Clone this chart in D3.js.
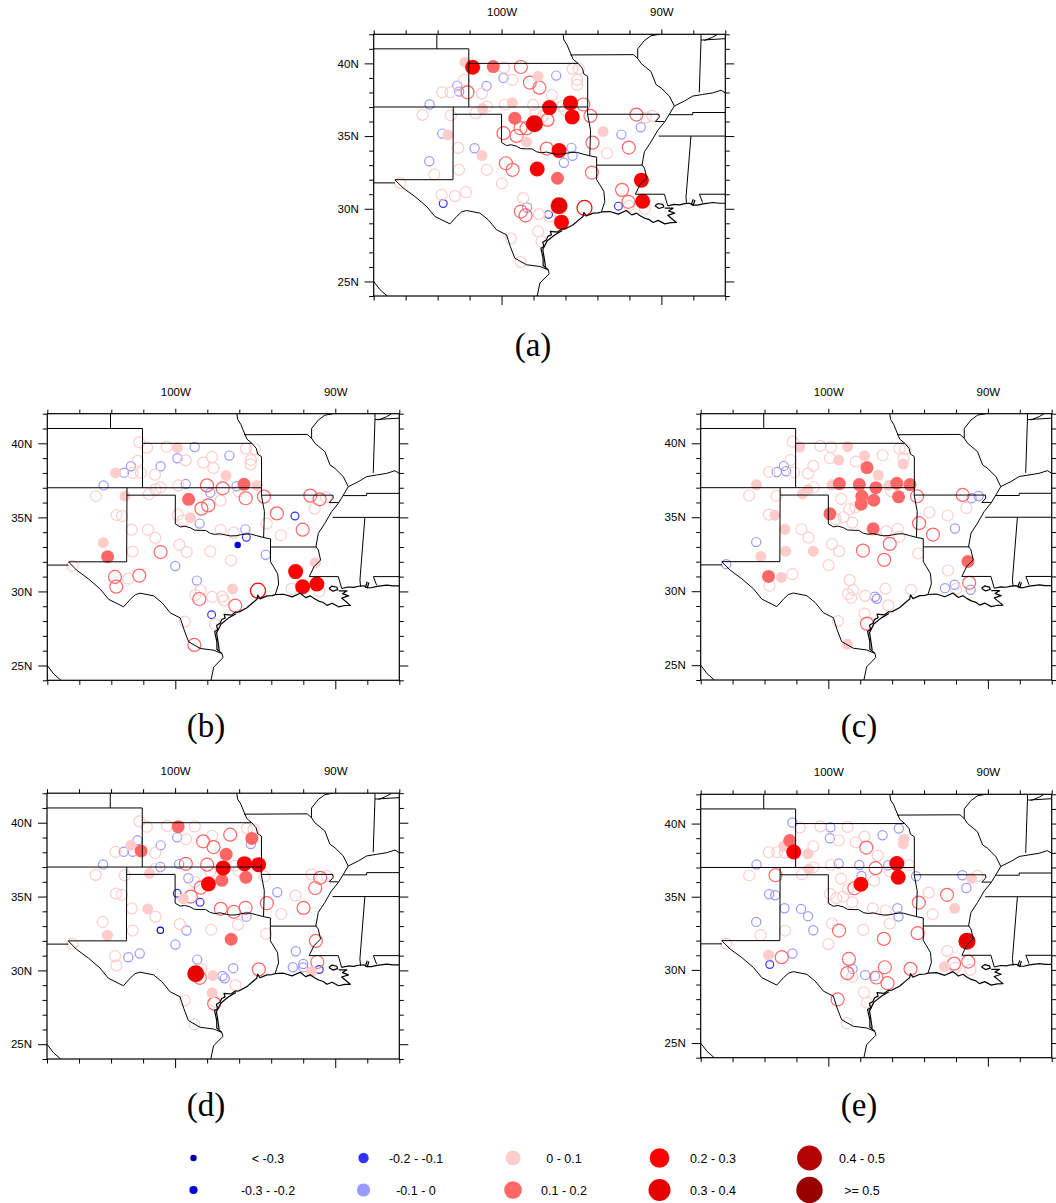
<!DOCTYPE html>
<html><head><meta charset="utf-8">
<script src="https://cdn.jsdelivr.net/npm/d3@7/dist/d3.min.js"></script>
<style>html,body{margin:0;padding:0;background:#fff}svg{display:block}</style></head>
<body><svg id="c" width="1056" height="1203"></svg>
<script>
// Each station: [lon, lat, value, significant]
const panelA=[
[-99.85,39.71,.05,0],[-99.33,38.86,.05,0],[-102.35,38.86,.05,0],[-103.71,38.01,.05,0],[-103.19,38.01,.05,0],[-101.23,37.92,.05,0],[-104.94,36.46,.05,0],[-103.17,36.43,.05,0],[-101.63,36.57,.05,0],[-100.9,37.03,.05,0],[-99.79,37.17,.05,0],[-98.02,37.14,.05,0],[-96.85,37.81,.05,0],[-96.19,37.07,.05,0],[-95.56,39.62,.05,0],[-95.17,39.62,.05,0],[-95.27,38.86,.05,0],[-95.27,38.52,.05,0],[-96.04,36.8,.05,0],[-97.08,36.11,.05,0],[-97.44,36.34,.05,0],[-97.88,36.57,.05,0],[-102.71,34.19,.05,0],[-102.67,32.68,.05,0],[-104.21,32.36,.05,0],[-100.92,32.68,.05,0],[-99.98,31.74,.05,0],[-106.35,31.76,.05,0],[-103.75,30.96,.05,0],[-102.92,30.87,.05,0],[-102.23,31.14,.05,0],[-98.65,30.73,.05,0],[-97.67,29.63,.05,0],[-96.98,29.47,.05,0],[-97.71,28.44,.05,0],[-99.42,27.96,.05,0],[-97.5,27.75,.05,0],[-98.81,26.35,.05,0],[-93.4,33.82,.05,0],[-90.98,36.27,.05,0],[-90.56,36.39,.05,0],[-92.02,30.2,.05,0],[-91.04,30,.05,0],
[-104.5,37.17,-.05,0],[-102.77,38.47,-.05,0],[-102.65,38.06,-.05,0],[-100.94,38.45,-.05,0],[-99.88,39,-.05,0],[-96.58,39.16,-.05,0],[-103.71,35.17,-.05,0],[-101.69,34.16,-.05,0],[-104.52,33.27,-.05,0],[-95.63,34.19,-.05,0],[-95.56,33.64,-.05,0],[-96.1,33.16,-.05,0],[-91.29,35.61,-.05,0],[-92.5,35.1,-.05,0],[-98.4,30.09,-.05,0],
[-103.65,30.36,-.15,0],[-97.06,29.61,-.15,0],[-92.69,30.18,-.15,0],
[-98.79,39.75,.15,0],[-98.23,38.68,.15,0],[-97.63,38.33,.15,0],[-102.13,38.01,.15,0],[-99.88,35.2,.15,0],[-99.06,35.01,.15,0],[-98.81,35.54,.15,0],[-98.44,35.54,.15,0],[-97.13,36.11,.15,0],[-97.17,34.14,.15,0],[-94.31,34.55,.15,0],[-92.04,34.21,.15,0],[-94.44,36.39,.15,0],[-91.56,36.48,.15,0],[-94.88,37.17,.15,0],[-99.73,33.13,.15,0],[-99.31,32.68,.15,0],[-94.35,32.49,.15,0],[-92.46,31.3,.15,0],[-92.06,30.48,.15,0],[-98.79,29.81,.15,0],[-98.5,29.54,.15,0],[-94.81,30.06,.25,0],
[-102.29,40.08,.05,1],[-97.71,39.11,.05,1],[-99.33,37.3,.05,1],[-101.19,36.89,.05,1],[-103.35,35.08,.05,1],[-98.44,34.6,.05,1],[-93.65,35.31,.05,1],[-101.23,33.66,.05,1],
[-100.52,39.78,.15,1],[-99.17,36.23,.15,1],[-96.5,32.1,.15,1],
[-101.81,39.73,.25,1],[-97,36.96,.25,1],[-95.69,37.28,.25,1],[-95.58,36.32,.25,1],[-96.4,34,.25,1],[-97.77,32.74,.25,1],[-91.25,31.97,.25,1],[-91.17,30.52,.25,1],[-96.25,29.08,.25,1],
[-97.94,35.84,.35,1],[-96.4,30.2,.35,1]];
const panelB=[
[-102.25,40.07,.05,0],[-101.77,39.71,.05,0],[-100.54,39.77,.05,0],[-99.35,38.85,.05,0],[-98.25,38.69,.05,0],[-97.71,39.08,.05,0],[-97.62,38.33,.05,0],[-95.58,39.64,.05,0],[-95.02,39.59,.05,0],[-95.27,38.87,.05,0],[-95.29,38.58,.05,0],[-102.35,38.81,.05,0],[-102.67,38,.05,0],[-102.15,38,.05,0],[-101.27,37.88,.05,0],[-101.65,36.56,.05,0],[-101.23,36.89,.05,0],[-100.92,37.03,.05,0],[-99.81,37.16,.05,0],[-97.17,36.13,.05,0],[-96.04,36.74,.05,0],[-104.96,36.44,.05,0],[-103.67,35.16,.05,0],[-103.33,35.09,.05,0],[-102.73,34.17,.05,0],[-101.71,34.17,.05,0],[-101.25,33.61,.05,0],[-102.67,32.69,.05,0],[-99.75,33.14,.05,0],[-99.29,32.66,.05,0],[-99.85,35.18,.05,0],[-99.54,34.8,.05,0],[-97.81,32.7,.05,0],[-96.52,32.1,.05,0],[-97.17,34.15,.05,0],[-96.35,33.97,.05,0],[-94.29,34.58,.05,0],[-93.4,33.79,.05,0],[-91.29,35.59,.05,0],[-90.58,36.35,.05,0],[-106.42,31.72,.05,0],[-102.94,30.86,.05,0],[-98.42,30.08,.05,0],[-98.75,29.76,.05,0],[-97.69,29.63,.05,0],[-97.06,29.65,.05,0],[-96.96,29.4,.05,0],[-99.42,27.96,.05,0],[-97.52,27.78,.05,0],[-92.73,30.17,.05,0],[-91,30,.05,0],
[-104.48,37.16,-.05,0],[-103.21,38.02,-.05,0],[-102.77,38.45,-.05,0],[-100.92,38.45,-.05,0],[-99.87,38.99,-.05,0],[-98.79,39.75,-.05,0],[-96.62,39.17,-.05,0],[-99.35,37.25,-.05,0],[-96.17,37.1,-.05,0],[-97.81,36.67,-.05,0],[-98.48,34.58,-.05,0],[-95.62,34.19,-.05,0],[-94.35,32.48,-.05,0],[-100,31.72,-.05,0],[-98.65,30.73,-.05,0],
[-92.52,35.09,-.15,0],[-95.56,33.65,-.15,0],[-97.73,28.43,-.15,0],
[-98.02,37.16,.15,0],[-97.04,36.96,.15,0],[-95.6,36.29,.15,0],[-94.46,36.4,.15,0],[-97.94,35.81,.15,0],[-98.37,35.59,.15,0],[-93.65,35.27,.15,0],[-91.56,36.47,.15,0],[-90.98,36.22,.15,0],[-92.04,34.17,.15,0],[-100.92,32.66,.15,0],[-103.77,30.98,.15,0],[-103.69,30.32,.15,0],[-102.25,31.07,.15,0],[-98.5,29.49,.15,0],[-96.25,29.04,.15,0],[-98.81,26.39,.15,0],[-94.83,30.05,.25,0],
[-103.73,38,.05,1],[-99.87,39.71,.05,1],[-96.83,37.82,.05,1],[-94.9,37.16,.05,1],[-103.15,36.44,.05,1],[-99.06,34.98,.05,1],[-104.5,33.29,.05,1],[-96.42,30.17,.05,1],[-91.25,31.94,.05,1],
[-95.71,37.23,.15,1],[-99.17,36.22,.15,1],[-104.23,32.35,.15,1],
[-92.48,31.34,.25,1],[-92.04,30.32,.25,1],[-91.15,30.5,.25,1],
[-96.1,33.14,-.25,1]];
const panelC=[
[-102.23,40.11,.05,0],[-100.5,39.82,.05,0],[-99.83,39.75,.05,0],[-99.9,38.99,.05,0],[-98.27,38.76,.05,0],[-96.6,39.19,.05,0],[-95.54,39.66,.05,0],[-95.19,39.6,.05,0],[-95.29,38.96,.05,0],[-102.37,38.87,.05,0],[-103.71,38.06,.05,0],[-102.15,38.04,.05,0],[-101.27,37.95,.05,0],[-100.94,38.47,.05,0],[-100.92,37.03,.05,0],[-104.96,36.47,.05,0],[-103.25,36.44,.05,0],[-99.19,36.24,.05,0],[-103.73,35.18,.05,0],[-98.69,35.54,.05,0],[-98.31,35.66,.05,0],[-99.04,35,.05,0],[-99.54,34.87,.05,0],[-98.5,34.64,.05,0],[-101.69,34.19,.05,0],[-101.25,33.63,.05,0],[-99.77,33.18,.05,0],[-99.33,32.71,.05,0],[-99.98,31.76,.05,0],[-94.37,32.55,.05,0],[-95.65,34.22,.05,0],[-95.56,33.67,.05,0],[-96.37,34.06,.05,0],[-96.08,36.78,.05,0],[-93.67,35.34,.05,0],[-92.52,35.12,.05,0],[-91.35,35.63,.05,0],[-92.5,31.4,.05,0],[-102.25,31.16,.05,0],[-103.69,30.37,.05,0],[-98.67,30.75,.05,0],[-98.44,30.08,.05,0],[-98.77,29.81,.05,0],[-98.56,29.56,.05,0],[-97.69,29.69,.05,0],[-96.42,30.17,.05,0],[-94.81,30.1,.05,0],[-96.25,29.04,.05,0],[-97.73,28.48,.05,0],[-99.4,27.98,.05,0],[-92,30.14,.05,0],
[-102.79,38.47,-.05,0],[-103.23,38.06,-.05,0],[-102.65,38.11,-.05,0],[-104.52,33.32,-.05,0],[-106.4,31.83,-.05,0],[-92.06,34.24,-.05,0],[-91.02,36.29,-.05,0],[-90.58,36.44,-.05,0],[-92.69,30.21,-.05,0],[-92.08,30.44,-.05,0],[-91.08,30.1,-.05,0],[-97.08,29.63,-.05,0],[-96.96,29.49,-.05,0],
[-91.58,36.51,.15,0],[-94.44,36.42,.15,0],[-94.31,34.6,.15,0],[-93.44,33.83,.15,0],[-96.15,33.2,.15,0],[-97.83,32.75,.15,0],[-96.5,32.12,.15,0],[-97.58,27.81,.15,0],[-91.17,30.57,.15,0],
[-101.79,39.75,.05,1],[-98.79,39.77,.05,1],[-99.35,38.87,.05,1],[-97.73,39.16,.05,1],[-95.31,38.6,.05,1],[-96.87,37.84,.05,1],[-104.5,37.19,.05,1],[-96.21,37.16,.05,1],[-99.77,37.19,.05,1],[-101.62,36.58,.05,1],[-101.27,36.87,.05,1],[-103.35,35.14,.05,1],[-102.73,34.19,.05,1],[-102.67,32.71,.05,1],[-100.94,32.71,.05,1],[-104.23,32.35,.05,1],[-102.94,30.93,.05,1],[-98.81,26.41,.05,1],
[-97.58,38.36,.15,1],[-99.31,37.28,.15,1],[-98.06,37.21,.15,1],[-97.02,37,.15,1],[-95.71,37.3,.15,1],[-94.88,37.21,.15,1],[-97.9,36.42,.15,1],[-97.15,36.15,.15,1],[-97.94,35.88,.15,1],[-95.6,36.38,.15,1],[-99.9,35.23,.15,1],[-97.19,34.22,.15,1],[-103.75,31,.15,1],[-91.25,32.01,.15,1]];
const panelD=[
[-102.23,40.09,.05,0],[-101.77,39.73,.05,0],[-100.5,39.79,.05,0],[-98.77,39.75,.05,0],[-99.31,38.88,.05,0],[-97.69,39.12,.05,0],[-95.52,39.6,.05,0],[-95.1,39.55,.05,0],[-103.73,38.02,.05,0],[-101.25,37.95,.05,0],[-104.96,36.47,.05,0],[-103.15,36.44,.05,0],[-101.21,36.9,.05,0],[-97.8,36.7,.05,0],[-96.04,36.75,.05,0],[-96.25,37.1,.05,0],[-94.42,36.36,.05,0],[-98.77,35.99,.05,0],[-103.69,35.2,.05,0],[-103.33,35.11,.05,0],[-102.71,34.2,.05,0],[-101.23,33.64,.05,0],[-104.52,33.28,.05,0],[-102.65,32.7,.05,0],[-99.71,33.13,.05,0],[-97.75,32.75,.05,0],[-96.08,33.1,.05,0],[-94.31,32.48,.05,0],[-93.37,33.82,.05,0],[-92.48,35.06,.05,0],[-91.48,36.5,.05,0],[-90.52,36.4,.05,0],[-106.42,31.79,.05,0],[-103.75,30.97,.05,0],[-103.67,30.34,.05,0],[-98.37,30.09,.05,0],[-96.23,29,.05,0],[-99.4,27.97,.05,0],[-98.79,26.34,.05,0],[-97.5,27.88,.05,0],
[-104.5,37.18,-.05,0],[-103.21,38.04,-.05,0],[-102.65,38.04,-.05,0],[-102.35,38.81,-.05,0],[-100.9,38.47,-.05,0],[-99.87,39.01,-.05,0],[-99.75,37.2,-.05,0],[-100.92,37,-.05,0],[-95.27,38.56,-.05,0],[-99.17,36.24,-.05,0],[-93.62,35.29,-.05,0],[-95.54,33.64,-.05,0],[-99.29,32.7,-.05,0],[-99.98,31.75,-.05,0],[-102.92,30.89,-.05,0],[-102.21,31.14,-.05,0],[-98.62,30.73,-.05,0],[-96.37,30.15,-.05,0],[-97.04,29.62,-.05,0],[-96.9,29.46,-.05,0],[-92.46,31.3,-.05,0],[-92.65,30.21,-.05,0],[-92,30.43,-.05,0],[-92,30.2,-.05,0],
[-99.87,35.22,-.15,0],[-98.44,34.61,-.15,0],[-91,30.06,-.15,0],[-100.92,32.72,-.25,0],
[-96.56,39.19,.15,0],[-98.25,38.74,.15,0],[-97.6,38.35,.15,0],[-99.33,37.22,.15,0],[-98,37.16,.15,0],[-99.02,35,.15,0],[-98.4,35.6,.15,0],[-97.15,34.17,.15,0],[-96.33,33.97,.15,0],[-95.6,34.24,.15,0],[-94.27,34.55,.15,0],[-91.98,34.23,.15,0],[-91.25,35.58,.15,0],[-90.94,36.27,.15,0],[-91.21,32,.15,0],[-91.12,30.57,.15,0],[-94.77,30.07,.15,0],[-98.46,29.5,.15,0],[-97.56,27.75,.15,0],
[-102.77,38.47,.05,1],[-101.6,36.57,.05,1],[-99.48,34.86,.05,1],[-101.71,34.16,.05,1],[-104.23,32.38,.05,1],[-97.65,29.65,.05,1],[-97.69,28.48,.05,1],[-91.48,29.92,.05,1],
[-99.81,39.73,.15,1],[-95.21,38.94,.15,1],[-102.12,38.09,.15,1],[-96.81,37.86,.15,1],[-97.08,36.1,.15,1],[-95.58,36.3,.15,1],[-96.5,32.11,.15,1],
[-95.67,37.23,.25,1],[-94.79,37.16,.25,1],[-97,36.94,.25,1],[-97.92,35.85,.25,1],
[-98.71,29.78,.35,1]];
const panelE=[
[-101.79,39.73,.05,0],[-100.5,39.81,.05,0],[-99.35,38.86,.05,0],[-98.79,39.77,.05,0],[-97.73,39.11,.05,0],[-98.27,38.72,.05,0],[-100.94,38.45,.05,0],[-103.73,38.04,.05,0],[-103.21,38.04,.05,0],[-102.73,38.02,.05,0],[-96.9,37.81,.05,0],[-100.94,37.01,.05,0],[-99.83,37.17,.05,0],[-94.94,37.15,.05,0],[-96.13,36.74,.05,0],[-104.96,36.45,.05,0],[-101.65,36.54,.05,0],[-99.21,36.24,.05,0],[-97.12,36.1,.05,0],[-98.77,35.51,.05,0],[-99.9,35.2,.05,0],[-99.5,34.9,.05,0],[-99.08,35,.05,0],[-98.5,34.62,.05,0],[-97.21,34.21,.05,0],[-96.4,34.06,.05,0],[-93.71,35.28,.05,0],[-93.46,33.8,.05,0],[-90.65,36.42,.05,0],[-96.15,33.17,.05,0],[-99.77,33.17,.05,0],[-97.81,32.74,.05,0],[-100,31.76,.05,0],[-102.71,32.69,.05,0],[-104.25,32.37,.05,0],[-106.4,31.8,.05,0],[-92.54,31.3,.05,0],[-98.5,29.53,.05,0],[-97.77,28.46,.05,0],[-97.58,27.77,.05,0],[-98.83,26.36,.05,0],[-92.04,30.15,.05,0],[-91.1,30,.05,0],
[-102.25,40.07,-.05,0],[-99.87,39.75,-.05,0],[-99.9,39,-.05,0],[-96.6,39.2,-.05,0],[-95.58,39.66,-.05,0],[-104.5,37.2,-.05,0],[-99.35,37.27,-.05,0],[-98.06,37.17,-.05,0],[-97.92,36.42,-.05,0],[-96.25,37.15,-.05,0],[-94.5,36.4,-.05,0],[-91.6,36.47,-.05,0],[-91.35,35.6,-.05,0],[-103.71,35.17,-.05,0],[-103.33,35.1,-.05,0],[-102.75,34.21,-.05,0],[-101.71,34.17,-.05,0],[-101.27,33.67,-.05,0],[-104.52,33.28,-.05,0],[-100.94,32.71,-.05,0],[-102.25,31.12,-.05,0],[-98.48,30.07,-.05,0],[-97.69,29.66,-.05,0],[-97.08,29.59,-.05,0],[-95.67,34.21,-.05,0],[-95.6,33.65,-.05,0],[-103.67,30.37,-.15,0],
[-103.31,36.47,.15,0],[-97.62,38.36,.15,0],[-97.04,36.95,.15,0],[-98.37,35.58,.15,0],[-92.56,35.13,.15,0],[-94.33,34.6,.15,0],[-99.33,32.69,.15,0],[-96.52,32.12,.15,0],[-94.4,32.51,.15,0],[-102.92,30.87,.15,0],[-98.71,30.75,.15,0],[-98.81,29.78,.15,0],[-96.98,29.48,.15,0],[-96.46,30.18,.15,0],[-94.85,30.07,.15,0],[-96.29,29.09,.15,0],[-99.42,27.98,.15,0],[-92.12,30.43,.15,0],[-91.23,30.57,.15,0],
[-102.79,38.45,.05,1],[-101.27,37.93,.05,1],[-101.23,36.88,.05,1],[-95.27,38.93,.05,1],[-95.31,38.61,.05,1],[-91.02,36.26,.05,1],[-92.08,34.21,.05,1],[-103.75,31.01,.05,1],[-92.73,30.23,.05,1],
[-102.42,38.84,.15,1],
[-102.17,38.06,.25,1],[-95.71,37.27,.25,1],[-95.62,36.33,.25,1],[-97.96,35.85,.25,1],
[-91.31,31.96,.35,1]];

// Map lines in [lon, lat]
const stateLines=[
[[-104.05,42],[-104.05,41]],
[[-108,41],[-102.05,41],[-102.05,37]],
[[-108,37],[-94.62,37]],
[[-102.05,40],[-95.21,40]],
[[-108,31.78],[-106.67,31.78]],
[[-106.67,32],[-103.04,32],[-103.02,37]],
[[-103.02,36.5],[-100,36.5],[-100,34.56]],
[[-100,34.56],[-99.69,34.35],[-99.4,34.4],[-99.06,34.3],[-98.8,34.14],[-98.44,34.12],[-98.1,34.12],[-97.81,33.92],[-97.5,33.85],[-97.19,33.9],[-96.9,33.82],[-96.56,33.75],[-96.2,33.76],[-95.94,33.82],[-95.6,33.88],[-95.31,33.88],[-94.9,33.76],[-94.48,33.64],[-94.05,33.55]],
[[-96.15,42],[-96.1,41.61],[-95.9,41.27],[-95.77,40.92],[-95.52,40.28],[-95.21,40],[-94.94,39.66],[-94.85,39.27],[-94.61,39.1],[-94.61,37],[-94.62,36.5],[-94.43,35.4],[-94.48,33.64]],
[[-94.05,33.55],[-94.05,32],[-93.85,31.65],[-93.6,31.19],[-93.54,30.5],[-93.75,29.8]],
[[-94.05,33],[-91.16,33]],
[[-95.7,40.58],[-91.75,40.6],[-91.48,40.34]],
[[-90.13,42],[-90.65,41.9],[-91.06,41.57],[-91.48,41],[-91.48,40.34],[-91.27,40],[-90.65,39.44],[-90.33,38.54],[-90.02,38.31],[-89.5,37.75],[-89.19,37.07],[-89.5,36.5],[-89.81,35.95],[-90.23,35.39],[-90.65,34.6],[-91.06,33.92],[-91.21,33.02],[-91.06,32.8],[-90.92,32.12],[-91.33,31.67],[-91.63,31]],
[[-91.63,31],[-89.81,31],[-89.6,30.2]],
[[-94.62,36.5],[-90.15,36.5],[-90.13,36.29],[-90.38,36],[-89.81,36]],
[[-89.5,36.47],[-88.04,36.47],[-88.04,36.62],[-86,36.62]],
[[-90.17,35],[-86,35]],
[[-88.15,35],[-88.46,30.77],[-88.42,30.32]],
[[-87.62,31],[-86,31]],
[[-87.62,31],[-87.42,30.43]],
[[-87.52,42],[-87.52,41.6],[-87.63,38]],
[[-87.52,41.6],[-86,41.7]],
[[-87.31,41.57],[-86.79,41.8],[-86.48,42]],
[[-89.19,37.07],[-88.56,37.41],[-88.04,37.75],[-87.42,37.86],[-86.79,37.97],[-86.27,38.15],[-86,37.97]]];
const borderLines=[
[[-106.67,31.99],[-106.15,31.42],[-105.42,30.84],[-104.69,30.16],[-104.17,29.47],[-103.23,28.96],[-102.81,29.47],[-102.5,29.78],[-102.19,29.88],[-101.35,29.7],[-100.83,29.24],[-100.31,28.55],[-99.69,28.21],[-99.45,27.4],[-99.17,26.6],[-98.44,26.15],[-97.6,26.03],[-97.08,25.8]],
[[-97.08,25.8],[-97.02,25.53],[-97.6,24.89],[-97.77,24]],
[[-108,25],[-107.6,24.43],[-107.15,24]]];
const coastLines=[
[[-97.08,25.8],[-97.4,26.1],[-97.4,26.6],[-97.54,27.29],[-97.35,27.4],[-97.42,27.7],[-97.19,27.86],[-97.1,28.1],[-96.88,28.21],[-96.95,28.45],[-96.5,28.4],[-96.25,28.6],[-96,28.62],[-95.52,28.9],[-95.2,29.2],[-94.9,29.47],[-94.85,29.75],[-94.7,29.5],[-94.27,29.7],[-93.95,29.72],[-93.75,29.78],[-93.23,29.81],[-92.7,29.63],[-92.19,29.88],[-91.85,29.58],[-91.56,29.7],[-91.3,29.5],[-91.04,29.35],[-90.75,29.25],[-90.52,29.06],[-90.2,29.2],[-89.79,28.96],[-89.4,29.05],[-89.06,29.06],[-89.38,29.35],[-89.6,29.55],[-89.17,29.7],[-89.55,29.85],[-89.27,30.04],[-89.79,30.04]],
[[-89.6,30.2],[-89.2,30.3],[-88.85,30.27],[-88.55,30.35],[-88.23,30.38],[-88,30.25],[-87.75,30.25],[-87.4,30.34],[-86.77,30.43],[-86.4,30.38],[-86,30.38]],
[[-97.25,26],[-97.33,26.6],[-97.42,27.2],[-97.15,27.78],[-96.68,28.2],[-96.2,28.5]],
[[-90.4,30.2],[-90.2,30.36],[-89.9,30.28],[-89.85,30.12],[-90.15,30.02],[-90.4,30.2]],
[[-88,30.65],[-88.12,30.3],[-88,30.25],[-87.9,30.6]]];

const valueBreaks=[-.3,-.2,-.1,0,.1,.2,.3,.4,.5];
const classColors=["#0000a6","#0000e6","#3333ff","#9999ff","#ffcccc","#ff6666","#ff0000","#e60000","#b30000","#990000"];
const legendRadii=[3.2,4.1,5.2,6.6,7.5,8.8,9.8,11,12.4,13.2];
const mapRadii=[2.6,3.2,3.9,4.6,5.5,6.5,7.5,8.5,9.5,10.5];
const legendLabels=["< -0.3","-0.3 - -0.2","-0.2 - -0.1","-0.1 - 0","0 - 0.1","0.1 - 0.2","0.2 - 0.3","0.3 - 0.4","0.4 - 0.5",">= 0.5"];
const legendMarkerX=[193.5,363.5,513,659.5,809.5];
const legendTextX=[268,416,564,713,862];
const legendRowY=[1158,1190];
const legendMid=[-.35,-.25,-.15,-.05,.05,.15,.25,.35,.45,.55];
const lonMajor=[-100,-90], lonMinor=[-108,-106,-104,-102,-98,-96,-94,-92,-88,-86];
const latMajor=[25,30,35,40], latMinor=[24,26,27,28,29,31,32,33,34,36,37,38,39,41,42];
const lonFormat=d=>Math.abs(d)+"W", latFormat=d=>d+"N";

const panels=[
 {data:panelA,label:"(a)",x0:373.7,x1:725.3,y0:34.3,y1:296,lx:533,ly:356},
 {data:panelB,label:"(b)",x0:47.3,x1:399.3,y0:413.7,y1:680.3,lx:206,ly:737},
 {data:panelC,label:"(c)",x0:700.7,x1:1051.7,y0:413.7,y1:680,lx:859,ly:737},
 {data:panelD,label:"(d)",x0:47,x1:399.3,y0:793.2,y1:1059,lx:206,ly:1116},
 {data:panelE,label:"(e)",x0:700.7,x1:1051.7,y0:794.3,y1:1057.7,lx:859,ly:1116}];

const colorScale=d3.scaleThreshold().domain(valueBreaks).range(classColors);
const mapR=d3.scaleThreshold().domain(valueBreaks).range(mapRadii);
const legR=d3.scaleThreshold().domain(valueBreaks).range(legendRadii);
const svg=d3.select("#c");
const FONT="'Liberation Sans',Arial,sans-serif";

panels.forEach(p=>{
  const x=d3.scaleLinear().domain([-108,-86]).range([p.x0,p.x1]);
  const y=d3.scaleLinear().domain([24,42]).range([p.y1,p.y0]);
  const g=svg.append("g");
  const clipId="clip"+p.label[1];
  g.append("clipPath").attr("id",clipId).append("rect").attr("x",p.x0).attr("y",p.y0).attr("width",p.x1-p.x0).attr("height",p.y1-p.y0);
  const sorted=[...p.data].sort((a,b)=>(a[3]-b[3])||(a[2]-b[2]));
  const inner=g.append("g").attr("clip-path",`url(#${clipId})`);
  inner.selectAll("circle").data(sorted).join("circle")
    .attr("cx",d=>x(d[0])).attr("cy",d=>y(d[1]))
    .attr("r",d=>mapR(d[2]))
    .attr("fill",d=>d[3]?colorScale(d[2]):"none")
    .attr("stroke",d=>d[3]?"none":colorScale(d[2]))
    .attr("stroke-width",1.2);
  const line=d3.line().x(d=>x(d[0])).y(d=>y(d[1]));
  inner.append("g").selectAll("path").data([...stateLines,...borderLines]).join("path")
    .attr("d",line).attr("fill","none").attr("stroke","#000").attr("stroke-width",1).attr("stroke-linejoin","round");
  inner.append("g").selectAll("path").data(coastLines).join("path")
    .attr("d",line).attr("fill","none").attr("stroke","#000").attr("stroke-width",1.2).attr("stroke-linejoin","round");
  g.append("rect").attr("x",p.x0).attr("y",p.y0).attr("width",p.x1-p.x0).attr("height",p.y1-p.y0)
    .attr("fill","none").attr("stroke","#000").attr("stroke-width",1.2);

  const styleAxis=s=>{s.select(".domain").remove();s.selectAll("line").attr("stroke","#000").attr("stroke-width",1);
    s.selectAll("text").attr("font-family",FONT).attr("font-size",11.5).attr("fill","#000");};
  const axes=[
   [d3.axisTop(x).tickValues(lonMinor).tickSize(4).tickFormat(""),0,p.y0],
   [d3.axisTop(x).tickValues(lonMajor).tickSize(5).tickPadding(13).tickFormat(lonFormat),0,p.y0],
   [d3.axisBottom(x).tickValues(lonMinor).tickSize(4.5).tickFormat(""),0,p.y1],
   [d3.axisBottom(x).tickValues(lonMajor).tickSize(9).tickFormat(""),0,p.y1],
   [d3.axisLeft(y).tickValues(latMinor).tickSize(4.5).tickFormat(""),p.x0,0],
   [d3.axisLeft(y).tickValues(latMajor).tickSize(9).tickPadding(6).tickFormat(latFormat),p.x0,0],
   [d3.axisRight(y).tickValues(latMinor).tickSize(4.5).tickFormat(""),p.x1,0],
   [d3.axisRight(y).tickValues(latMajor).tickSize(9).tickFormat(""),p.x1,0]];
  axes.forEach(([a,tx,ty])=>g.append("g").attr("transform",`translate(${tx},${ty})`).call(a).call(styleAxis));
  g.append("text").attr("x",p.lx).attr("y",p.ly).attr("text-anchor","middle")
    .attr("font-family","'Liberation Serif','Times New Roman',serif").attr("font-size",33).attr("fill","#000").text(p.label);
});

// Legend: two rows, five columns
const lg=svg.append("g");
legendMid.forEach((v,i)=>{
  const col=Math.floor(i/2), row=i%2;
  lg.append("circle").attr("cx",legendMarkerX[col]).attr("cy",legendRowY[row]).attr("r",legR(v)).attr("fill",colorScale(v));
  lg.append("text").attr("x",legendTextX[col]).attr("y",legendRowY[row]+4.5).attr("text-anchor","middle")
    .attr("font-family",FONT).attr("font-size",12.5).attr("fill","#000").text(legendLabels[i]);
});
</script></body></html>
